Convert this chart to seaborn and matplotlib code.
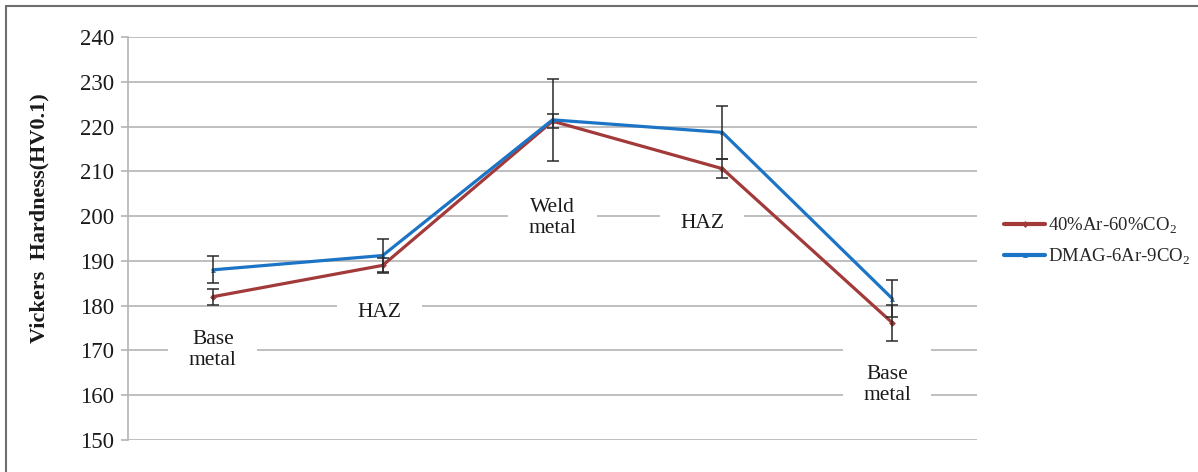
import numpy as np
import pandas as pd
import matplotlib
matplotlib.use("Agg")
import matplotlib.pyplot as plt
from matplotlib.lines import Line2D
import seaborn as sns

# Measurement positions across the weld cross-section
positions = ["Base metal", "HAZ", "Weld metal", "HAZ", "Base metal"]

# Mean Vickers hardness (HV0.1) and standard deviation per shielding gas
hv_ar40_co2_60 = [182.0, 189.0, 221.2, 210.6, 176.2]
sd_ar40_co2_60 = [1.8, 1.7, 1.6, 2.1, 4.0]
hv_dmag = [188.0, 191.2, 221.5, 218.7, 181.6]
sd_dmag = [3.0, 3.7, 9.2, 6.0, 4.2]

series_labels = [r"40%Ar-60%CO$_\mathrm{2}$", r"DMAG-6Ar-9CO$_\mathrm{2}$"]
series_colors = ["#a33a3a", "#1c74c6"]
series_markers = ["D", "^"]

# Zone captions written inside the plot area
zone_labels = ["Base\nmetal", "HAZ", "Weld\nmetal", "HAZ", "Base\nmetal"]
zone_x = [0.0, 0.98, 2.0, 2.88, 3.97]
zone_y = [170.1, 178.4, 199.6, 198.3, 162.3]

y_ticks = list(range(150, 241, 10))

sns.set_theme(style="white")
plt.rcParams["font.family"] = ["Liberation Serif", "DejaVu Serif"]
plt.rcParams["mathtext.fontset"] = "custom"
plt.rcParams["mathtext.rm"] = "Liberation Serif"

df = pd.DataFrame({
    "pos": list(range(len(positions))) * 2,
    "hv": hv_ar40_co2_60 + hv_dmag,
    "sd": sd_ar40_co2_60 + sd_dmag,
    "gas": [series_labels[0]] * len(positions) + [series_labels[1]] * len(positions),
})

fig = plt.figure(figsize=(11.98, 4.72), dpi=100)
ax = fig.add_axes([0.1068, 0.0678, 0.7088, 0.8538])

grid_color = "#b4b4b4"
for t in y_ticks:
    ax.axhline(t, color=grid_color, linewidth=1.2, zorder=0.5)

sns.lineplot(data=df, x="pos", y="hv", hue="gas", hue_order=series_labels,
             palette=series_colors, style="gas", markers=series_markers,
             dashes=False, markersize=3.5, markeredgewidth=0,
             linewidth=2.3, ax=ax, legend=False, zorder=3, sort=False)

for lab in series_labels:
    sub = df[df["gas"] == lab]
    ax.errorbar(sub["pos"], sub["hv"], yerr=sub["sd"], fmt="none",
                ecolor="#2a2a2a", elinewidth=1.1, capsize=4.5,
                capthick=1.1, zorder=4)

for txt, x, y in zip(zone_labels, zone_x, zone_y):
    ax.text(x, y, txt, ha="center", va="center", fontsize=15.5,
            color="#1a1a1a", linespacing=1.15, zorder=2,
            bbox=dict(boxstyle="square,pad=0.95", facecolor="white",
                      edgecolor="none"))

ax.set_xlim(-0.5, len(positions) - 0.5)
ax.set_ylim(150, 240)
ax.set_yticks(y_ticks)
ax.set_xticks([])
ax.set_xlabel("")
ax.set_ylabel("Vickers  Hardness(HV0.1)", fontsize=16, fontweight="bold",
              color="#1a1a1a", va="center")
ax.yaxis.set_label_coords(-0.104, 0.551)
ax.tick_params(axis="y", which="both", left=True, length=5, width=1.2,
               color=grid_color, labelsize=16.5, labelcolor="#1a1a1a", pad=5)
for side in ["top", "right", "bottom"]:
    ax.spines[side].set_visible(False)
ax.spines["left"].set_color(grid_color)
ax.spines["left"].set_linewidth(1.2)
ax.patch.set_alpha(0)

handles = [Line2D([], [], color=c, linewidth=3, marker=m, markersize=3.5,
                  markeredgewidth=0)
           for c, m in zip(series_colors, series_markers)]
fig.legend(handles, series_labels, loc="center left",
           bbox_to_anchor=(0.838, 0.489), bbox_transform=fig.transFigure,
           frameon=False, fontsize=13.5, handlelength=2.2, handletextpad=0.15,
           labelspacing=0.55, borderpad=0, borderaxespad=0)

# Frame edges along the top and left of the figure
fig.add_artist(Line2D([0.005, 1.0], [1 - 6 / 472, 1 - 6 / 472],
                      transform=fig.transFigure, color="#6e6e6e", linewidth=1.5))
fig.add_artist(Line2D([6 / 1198, 6 / 1198], [0.0, 1 - 6 / 472],
                      transform=fig.transFigure, color="#6e6e6e", linewidth=1.5))

fig.savefig("out.png", dpi=100)
